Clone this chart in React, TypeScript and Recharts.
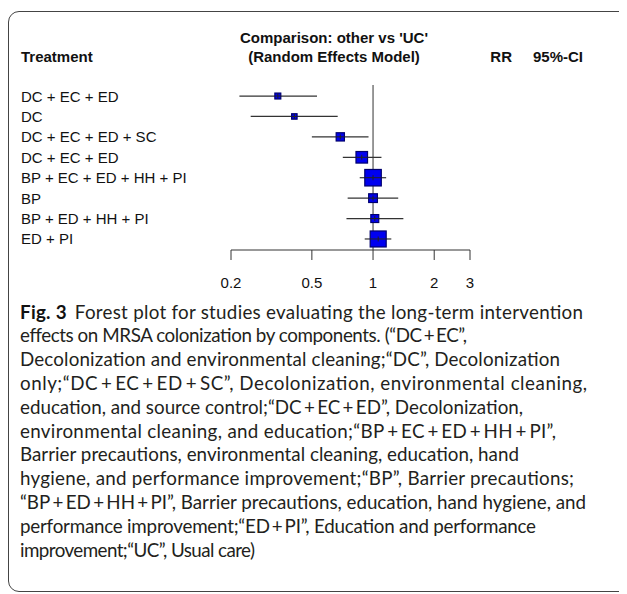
import React from 'react';
import { ScatterChart, Scatter, XAxis, YAxis, ReferenceLine } from 'recharts';

const treatments = [
  'DC + EC + ED',
  'DC',
  'DC + EC + ED + SC',
  'DC + EC + ED',
  'BP + EC + ED + HH + PI',
  'BP',
  'BP + ED + HH + PI',
  'ED + PI',
];
const rr = [0.34, 0.41, 0.69, 0.88, 1.0, 1.0, 1.02, 1.06];
const lower = [0.22, 0.25, 0.5, 0.71, 0.86, 0.75, 0.74, 0.91];
const upper = [0.53, 0.67, 0.95, 1.1, 1.16, 1.33, 1.41, 1.23];
const weights = [36, 33, 50, 70, 100, 53, 48, 97];
const xTicks = [0.2, 0.5, 1, 2, 3];

const T = '\u2009';
const captionLines = [
  'Forest plot for studies evaluating the long-term intervention',
  `effects on MRSA colonization by components. (\u201cDC${T}+${T}EC\u201d,`,
  'Decolonization and environmental cleaning;\u201cDC\u201d, Decolonization',
  `only;\u201cDC${T}+${T}EC${T}+${T}ED${T}+${T}SC\u201d, Decolonization, environmental cleaning,`,
  `education, and source control;\u201cDC${T}+${T}EC${T}+${T}ED\u201d, Decolonization,`,
  `environmental cleaning, and education;\u201cBP${T}+${T}EC${T}+${T}ED${T}+${T}HH${T}+${T}PI\u201d,`,
  'Barrier precautions, environmental cleaning, education, hand',
  'hygiene, and performance improvement;\u201cBP\u201d, Barrier precautions;',
  `\u201cBP${T}+${T}ED${T}+${T}HH${T}+${T}PI\u201d, Barrier precautions, education, hand hygiene, and`,
  `performance improvement;\u201cED${T}+${T}PI\u201d, Education and performance`,
  'improvement;\u201cUC\u201d, Usual care)',
];
// approximate rendered widths of the caption lines, px
const captionWidths = [563, 447, 540, 567, 503, 536, 499, 554, 566, 516, 235];

const data = treatments.map((t, i) => ({
  row: i,
  name: t,
  rr: rr[i],
  lo: lower[i],
  hi: upper[i],
  weight: weights[i],
}));

const RFONT = '"Liberation Sans", Arial, Helvetica, sans-serif';
const CFONT = 'Lato, "Open Sans", sans-serif';
const FS = 15;
const MAXBOX = 16.5;

const Square = (props: any) => {
  const { cx, cy, payload } = props;
  if (cx == null || cy == null) return null;
  const s = (MAXBOX * payload.weight) / 100;
  return (
    <g>
      <rect x={cx - s / 2} y={cy - s / 2} width={s} height={s} fill="#0000f0" stroke="#00006e" strokeWidth={1.2} />
      <line x1={cx - s / 2} x2={cx + s / 2} y1={cy} y2={cy} stroke="#222" strokeWidth={1} />
      <line x1={cx} x2={cx} y1={cy - 2.5} y2={cy + 2.5} stroke="#222" strokeWidth={1} />
    </g>
  );
};

const LeftTick = (props: any) => {
  const { y, payload } = props;
  const i = payload.value;
  return (
    <text x={13} y={y} dominantBaseline="central" textAnchor="start" fontFamily={RFONT} fontSize={FS} fill="#111">
      {treatments[i]}
    </text>
  );
};

const RightTick = (props: any) => {
  const { y, payload } = props;
  const i = payload.value;
  return (
    <g fontFamily={RFONT} fontSize={FS} fill="#111">
      <text x={504} y={y} dominantBaseline="central" textAnchor="end">
        {rr[i].toFixed(2)}
      </text>
      <text x={575} y={y} dominantBaseline="central" textAnchor="end">
        {`[${lower[i].toFixed(2)}; ${upper[i].toFixed(2)}]`}
      </text>
    </g>
  );
};

export default function App() {
  return (
    <div style={{ position: 'relative', width: 619, height: 583, marginTop: 3, overflow: 'hidden', background: '#fff' }}>
      <div
        style={{
          position: 'absolute',
          left: 0,
          top: 0,
          width: 660,
          height: 581,
          border: '1.3px solid #444',
          borderRadius: 11,
          boxSizing: 'border-box',
        }}
      />
      <div style={{ position: 'absolute', left: 0, top: 0 }}>
        <ScatterChart width={619} height={284} margin={{ top: 74, right: 0, bottom: 0, left: 0 }}>
          <XAxis
            type="number"
            dataKey="rr"
            scale="log"
            domain={[0.2, 3]}
            ticks={xTicks}
            allowDataOverflow
            height={45}
            tickSize={10}
            tickMargin={17}
            axisLine={{ stroke: '#333', strokeWidth: 1 }}
            tickLine={{ stroke: '#333', strokeWidth: 1 }}
            tick={{ fontFamily: RFONT, fontSize: FS, fill: '#111' }}
          />
          <YAxis
            yAxisId="left"
            type="number"
            dataKey="row"
            domain={[-0.54, 7.54]}
            reversed
            ticks={[0, 1, 2, 3, 4, 5, 6, 7]}
            interval={0}
            width={223}
            axisLine={false}
            tickLine={false}
            tick={<LeftTick />}
          />
          <YAxis
            yAxisId="right"
            orientation="right"
            type="number"
            dataKey="row"
            domain={[-0.54, 7.54]}
            reversed
            ticks={[0, 1, 2, 3, 4, 5, 6, 7]}
            interval={0}
            width={157}
            axisLine={false}
            tickLine={false}
            tick={<RightTick />}
          />
          <ReferenceLine x={1} yAxisId="left" stroke="#333" strokeWidth={1} />
          {data.map((d) => (
            <ReferenceLine
              key={d.row}
              yAxisId="left"
              segment={[
                { x: d.lo, y: d.row },
                { x: d.hi, y: d.row },
              ]}
              stroke="#333"
              strokeWidth={1.2}
              ifOverflow="visible"
            />
          ))}
          <Scatter yAxisId="left" data={data} shape={<Square />} isAnimationActive={false} />
        </ScatterChart>
      </div>
      <svg width={619} height={583} style={{ position: 'absolute', left: 0, top: 0, pointerEvents: 'none' }}>
        <g fontFamily={RFONT} fontSize={FS} fontWeight="bold" fill="#111">
          <text x={326} y={26} textAnchor="middle" dominantBaseline="central">Comparison: other vs 'UC'</text>
          <text x={326} y={45} textAnchor="middle" dominantBaseline="central">(Random Effects Model)</text>
          <text x={13} y={45} dominantBaseline="central">Treatment</text>
          <text x={504} y={45} textAnchor="end" dominantBaseline="central">RR</text>
          <text x={575} y={45} textAnchor="end" dominantBaseline="central">95%-CI</text>
        </g>
        <g fontFamily={CFONT} fontSize={18.8} fill="#231f20">
          {captionLines.map((line, i) => (
            <text
              key={i}
              x={12}
              y={300 + 23.8 * i}
              dominantBaseline="central"
              textLength={captionWidths[i]}
              lengthAdjust="spacing"
            >
              {i === 0 ? (
                <>
                  <tspan fontWeight="bold" fill="#111">Fig. 3</tspan>
                  <tspan dx={8}>{line}</tspan>
                </>
              ) : (
                line
              )}
            </text>
          ))}
        </g>
      </svg>
    </div>
  );
}
